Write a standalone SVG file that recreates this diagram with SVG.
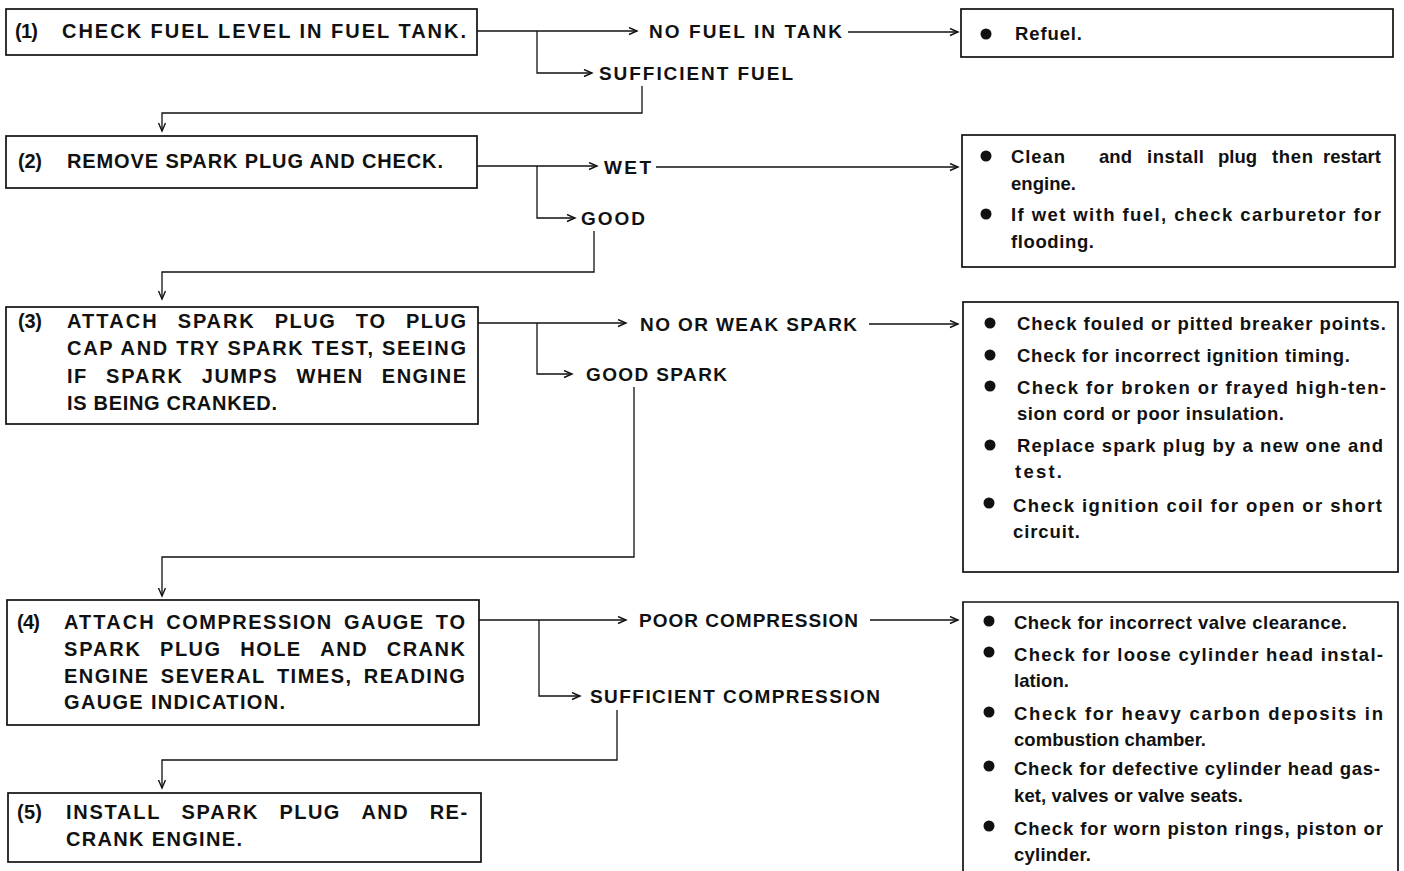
<svg xmlns="http://www.w3.org/2000/svg" width="1404" height="871" viewBox="0 0 1404 871">
<style>
text{font-family:"Liberation Sans",Arial,sans-serif;font-weight:bold;fill:#111;}
.t{font-size:20px;}
.l{font-size:19px;}
.r{font-size:18.5px;}
.box{fill:none;stroke:#111;stroke-width:1.7;}
.c{fill:none;stroke:#111;stroke-width:1.3;}
.b{fill:#111;}
</style>
<defs>
<marker id="a" markerUnits="userSpaceOnUse" markerWidth="12" markerHeight="10" refX="9" refY="4" orient="auto">
<path d="M1,0.5 L9,4 L1,7.5" fill="none" stroke="#111" stroke-width="1.4"/>
</marker>
</defs>
<rect width="1404" height="871" fill="#fff"/>

<g id="connectors">
<path class="c" d="M477,31 H637" marker-end="url(#a)"/>
<path class="c" d="M537,31 V73 H592" marker-end="url(#a)"/>
<path class="c" d="M848,32 H958" marker-end="url(#a)"/>
<path class="c" d="M642,86 V113 H162 V131" marker-end="url(#a)"/>
<path class="c" d="M477,166 H597" marker-end="url(#a)"/>
<path class="c" d="M656,167 H958" marker-end="url(#a)"/>
<path class="c" d="M537,166 V218 H575" marker-end="url(#a)"/>
<path class="c" d="M594,231 V272 H162 V299" marker-end="url(#a)"/>
<path class="c" d="M478,323 H626" marker-end="url(#a)"/>
<path class="c" d="M869,324 H958" marker-end="url(#a)"/>
<path class="c" d="M537,323 V374 H572" marker-end="url(#a)"/>
<path class="c" d="M634,387 V557 H162 V596" marker-end="url(#a)"/>
<path class="c" d="M479,620 H626" marker-end="url(#a)"/>
<path class="c" d="M870,620 H958" marker-end="url(#a)"/>
<path class="c" d="M539,620 V696 H580" marker-end="url(#a)"/>
<path class="c" d="M617,710 V760 H162 V788" marker-end="url(#a)"/>
<text class="l" x="649" y="38" textLength="193">NO FUEL IN TANK</text>
<text class="l" x="599" y="80" textLength="194">SUFFICIENT FUEL</text>
<text class="l" x="604" y="174" textLength="47">WET</text>
<text class="l" x="581" y="225" textLength="64">GOOD</text>
<text class="l" x="640" y="331" textLength="217">NO OR WEAK SPARK</text>
<text class="l" x="586" y="381" textLength="141">GOOD SPARK</text>
<text class="l" x="639" y="627" textLength="219">POOR COMPRESSION</text>
<text class="l" x="590" y="703" textLength="290">SUFFICIENT COMPRESSION</text>
</g>

<g id="box1">
<rect class="box" x="6" y="9" width="471" height="46"/>
<text class="t" x="15" y="38" textLength="23">(1)</text>
<text class="t" x="62" y="38" textLength="404">CHECK FUEL LEVEL IN FUEL TANK.</text>
</g>

<g id="box2">
<rect class="box" x="6" y="136" width="471" height="52"/>
<text class="t" x="18" y="168" textLength="24">(2)</text>
<text class="t" x="67" y="168" textLength="376">REMOVE SPARK PLUG AND CHECK.</text>
</g>

<g id="box3">
<rect class="box" x="6" y="307" width="472" height="117"/>
<text class="t" x="18" y="328" textLength="24">(3)</text>
<text class="t" x="67" y="328" textLength="89.7">ATTACH</text>
<text class="t" x="177.7" y="328" textLength="76">SPARK</text>
<text class="t" x="274.7" y="328" textLength="60">PLUG</text>
<text class="t" x="355.7" y="328" textLength="29.3">TO</text>
<text class="t" x="406" y="328" textLength="60">PLUG</text>
<text class="t" x="67" y="355" textLength="399">CAP AND TRY SPARK TEST, SEEING</text>
<text class="t" x="67" y="383" textLength="19.3">IF</text>
<text class="t" x="106" y="383" textLength="76">SPARK</text>
<text class="t" x="201.8" y="383" textLength="74.9">JUMPS</text>
<text class="t" x="296.5" y="383" textLength="65.6">WHEN</text>
<text class="t" x="381.8" y="383" textLength="84.2">ENGINE</text>
<text class="t" x="67" y="410" textLength="210">IS BEING CRANKED.</text>
</g>

<g id="box4">
<rect class="box" x="7" y="600" width="472" height="125"/>
<text class="t" x="17" y="629" textLength="23">(4)</text>
<text class="t" x="64" y="629" textLength="89.7">ATTACH</text>
<text class="t" x="166.3" y="629" textLength="165">COMPRESSION</text>
<text class="t" x="343.9" y="629" textLength="79.3">GAUGE</text>
<text class="t" x="435.8" y="629" textLength="29.3">TO</text>
<text class="t" x="64" y="656" textLength="76">SPARK</text>
<text class="t" x="160.1" y="656" textLength="60">PLUG</text>
<text class="t" x="240.2" y="656" textLength="60">HOLE</text>
<text class="t" x="320.3" y="656" textLength="46.3">AND</text>
<text class="t" x="386.7" y="656" textLength="78.2">CRANK</text>
<text class="t" x="64" y="683" textLength="84.2">ENGINE</text>
<text class="t" x="160.8" y="683" textLength="103.5">SEVERAL</text>
<text class="t" x="276.9" y="683" textLength="74.2">TIMES,</text>
<text class="t" x="363.7" y="683" textLength="101.2">READING</text>
<text class="t" x="64" y="709" textLength="221">GAUGE INDICATION.</text>
</g>

<g id="box5">
<rect class="box" x="8" y="793" width="473" height="69"/>
<text class="t" x="17" y="819" textLength="25">(5)</text>
<text class="t" x="66" y="819" textLength="93.4">INSTALL</text>
<text class="t" x="181.4" y="819" textLength="76">SPARK</text>
<text class="t" x="279.4" y="819" textLength="60">PLUG</text>
<text class="t" x="361.4" y="819" textLength="46.3">AND</text>
<text class="t" x="429.7" y="819" textLength="37.4">RE-</text>
<text class="t" x="66" y="846" textLength="176">CRANK ENGINE.</text>
</g>

<g id="result1">
<rect class="box" x="961" y="9" width="432" height="48"/>
<circle class="b" cx="986" cy="34" r="5.5"/>
<text class="r" x="1015" y="40" textLength="67">Refuel.</text>
</g>

<g id="result2">
<rect class="box" x="962" y="135" width="433" height="132"/>
<circle class="b" cx="986" cy="156" r="5.5"/>
<text class="r" x="1011" y="163" textLength="54">Clean</text>
<text class="r" x="1099" y="163" textLength="33">and</text>
<text class="r" x="1147" y="163" textLength="57">install</text>
<text class="r" x="1218" y="163" textLength="39">plug</text>
<text class="r" x="1272" y="163" textLength="41">then</text>
<text class="r" x="1323" y="163" textLength="58">restart</text>
<text class="r" x="1011" y="190" textLength="65">engine.</text>
<circle class="b" cx="986" cy="214" r="5.5"/>
<text class="r" x="1011" y="221" textLength="370">If wet with fuel, check carburetor for</text>
<text class="r" x="1011" y="248" textLength="83">flooding.</text>
</g>

<g id="result3">
<rect class="box" x="963" y="302" width="435" height="270"/>
<circle class="b" cx="990" cy="323" r="5.5"/>
<text class="r" x="1017" y="330" textLength="369">Check fouled or pitted breaker points.</text>
<circle class="b" cx="990" cy="355" r="5.5"/>
<text class="r" x="1017" y="362" textLength="333">Check for incorrect ignition timing.</text>
<circle class="b" cx="990" cy="386" r="5.5"/>
<text class="r" x="1017" y="394" textLength="369">Check for broken or frayed high-ten-</text>
<text class="r" x="1017" y="420" textLength="267">sion cord or poor insulation.</text>
<circle class="b" cx="990" cy="445" r="5.5"/>
<text class="r" x="1017" y="452" textLength="366">Replace spark plug by a new one and</text>
<text class="r" x="1015" y="478" textLength="47">test.</text>
<circle class="b" cx="989" cy="503" r="5.5"/>
<text class="r" x="1013" y="512" textLength="369">Check ignition coil for open or short</text>
<text class="r" x="1013" y="538" textLength="67">circuit.</text>
</g>

<g id="result4">
<path class="box" d="M963,880 V602 H1398 V880"/>
<circle class="b" cx="989" cy="621" r="5.5"/>
<text class="r" x="1014" y="629" textLength="333">Check for incorrect valve clearance.</text>
<circle class="b" cx="989" cy="652" r="5.5"/>
<text class="r" x="1014" y="661" textLength="369">Check for loose cylinder head instal-</text>
<text class="r" x="1014" y="687" textLength="55">lation.</text>
<circle class="b" cx="989" cy="712" r="5.5"/>
<text class="r" x="1014" y="720" textLength="369">Check for heavy carbon deposits in</text>
<text class="r" x="1014" y="746" textLength="192">combustion chamber.</text>
<circle class="b" cx="989" cy="766" r="5.5"/>
<text class="r" x="1014" y="775" textLength="366">Check for defective cylinder head gas-</text>
<text class="r" x="1014" y="802" textLength="229">ket, valves or valve seats.</text>
<circle class="b" cx="989" cy="826" r="5.5"/>
<text class="r" x="1014" y="835" textLength="369">Check for worn piston rings, piston or</text>
<text class="r" x="1014" y="861" textLength="77">cylinder.</text>
</g>
</svg>
